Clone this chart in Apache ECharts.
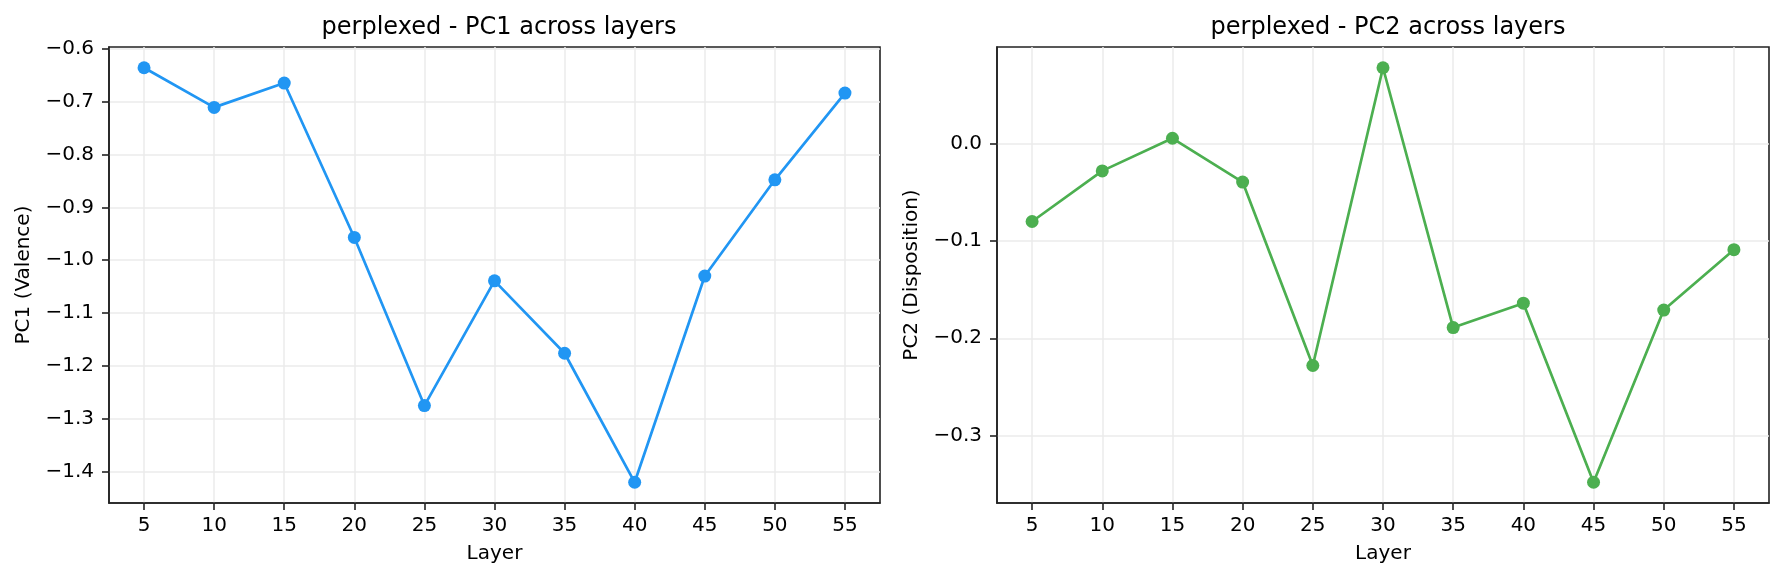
<!DOCTYPE html>
<html>
<head>
<meta charset="utf-8">
<script src="https://cdn.jsdelivr.net/npm/echarts@6/dist/echarts.min.js"></script>
<style>
  html, body { margin: 0; padding: 0; background: #fff; }
  #chart { width: 1784px; height: 581px; }
</style>
</head>
<body>
<div id="chart"></div>
<script>
// layers on x
var layers = [5, 10, 15, 20, 25, 30, 35, 40, 45, 50, 55];
// PC1 (Valence) per layer
var pc1 = [-0.636, -0.711, -0.665, -0.957, -1.275, -1.039, -1.176, -1.420, -1.030, -0.848, -0.684];
// PC2 (Disposition) per layer
var pc2 = [-0.080, -0.028, 0.0055, -0.0395, -0.228, 0.078, -0.189, -0.164, -0.348, -0.171, -0.109];
// tick labels
var xTicks = [5, 10, 15, 20, 25, 30, 35, 40, 45, 50, 55];
var pc1Ticks = [-1.4, -1.3, -1.2, -1.1, -1.0, -0.9, -0.8, -0.7, -0.6];
var pc2Ticks = [-0.3, -0.2, -0.1, 0.0];

var FONT = 'DejaVu Sans';
var AX = '#222222';

// matplotlib style 5% margins
function pad(arr) {
    var lo = Math.min.apply(null, arr), hi = Math.max.apply(null, arr);
    var m = (hi - lo) * 0.05;
    return [lo - m, hi + m];
}
var xr = pad(layers), y1 = pad(pc1), y2 = pad(pc2);

function fmt(v) {
    return v.toFixed(1).replace('-', '\u2212');
}

function xAxisCfg(idx) {
    return {
        type: 'value', gridIndex: idx, min: xr[0], max: xr[1],
        name: 'Layer', nameLocation: 'middle', nameGap: 41,
        nameTextStyle: { fontFamily: FONT, fontSize: 20, color: '#000' },
        axisLine: { show: true, onZero: false, lineStyle: { color: AX, width: 1.6 } },
        axisTick: { show: true, length: 7, customValues: xTicks, lineStyle: { color: AX, width: 1.6 } },
        axisLabel: { customValues: xTicks, margin: 13, fontFamily: FONT, fontSize: 20, color: '#000' },
        splitLine: { show: true, lineStyle: { color: '#ebebeb', width: 1.5 } }
    };
}
function yAxisCfg(idx, r, ticks, name) {
    return {
        type: 'value', gridIndex: idx, min: r[0], max: r[1],
        name: name, nameLocation: 'middle', nameGap: 75, nameRotate: 90,
        nameTextStyle: { fontFamily: FONT, fontSize: 20, color: '#000' },
        axisLine: { show: true, onZero: false, lineStyle: { color: AX, width: 1.6 } },
        axisTick: { show: true, length: 7, customValues: ticks, lineStyle: { color: AX, width: 1.6 } },
        axisLabel: { customValues: ticks, margin: 15, fontFamily: FONT, fontSize: 20, color: '#000', formatter: fmt },
        splitLine: { show: true, lineStyle: { color: '#ebebeb', width: 1.5 } }
    };
}

var chart = echarts.init(document.getElementById('chart'), null, { renderer: 'canvas' });
var option = {
    animation: false,
    backgroundColor: '#fff',
    title: [
        { text: 'perplexed - PC1 across layers', left: 494, top: 11, textAlign: 'center',
          textStyle: { fontFamily: FONT, fontSize: 24, fontWeight: 'normal', color: '#000' } },
        { text: 'perplexed - PC2 across layers', left: 1383, top: 11, textAlign: 'center',
          textStyle: { fontFamily: FONT, fontSize: 24, fontWeight: 'normal', color: '#000' } }
    ],
    grid: [
        { left: 109, top: 47, width: 771, height: 456, show: true, borderColor: AX, borderWidth: 1.6, backgroundColor: 'transparent' },
        { left: 997, top: 47, width: 772, height: 456, show: true, borderColor: AX, borderWidth: 1.6, backgroundColor: 'transparent' }
    ],
    xAxis: [xAxisCfg(0), xAxisCfg(1)],
    yAxis: [
        yAxisCfg(0, y1, pc1Ticks, 'PC1 (Valence)'),
        yAxisCfg(1, y2, pc2Ticks, 'PC2 (Disposition)')
    ],
    series: [
        {
            type: 'line', xAxisIndex: 0, yAxisIndex: 0,
            data: layers.map(function (l, i) { return [l, pc1[i]]; }),
            symbol: 'circle', symbolSize: 13, showAllSymbol: true,
            lineStyle: { color: '#2196F3', width: 2.7 },
            itemStyle: { color: '#2196F3' }
        },
        {
            type: 'line', xAxisIndex: 1, yAxisIndex: 1,
            data: layers.map(function (l, i) { return [l, pc2[i]]; }),
            symbol: 'circle', symbolSize: 13, showAllSymbol: true,
            lineStyle: { color: '#4CAF50', width: 2.7 },
            itemStyle: { color: '#4CAF50' }
        }
    ]
};
chart.setOption(option);
</script>
</body>
</html>
